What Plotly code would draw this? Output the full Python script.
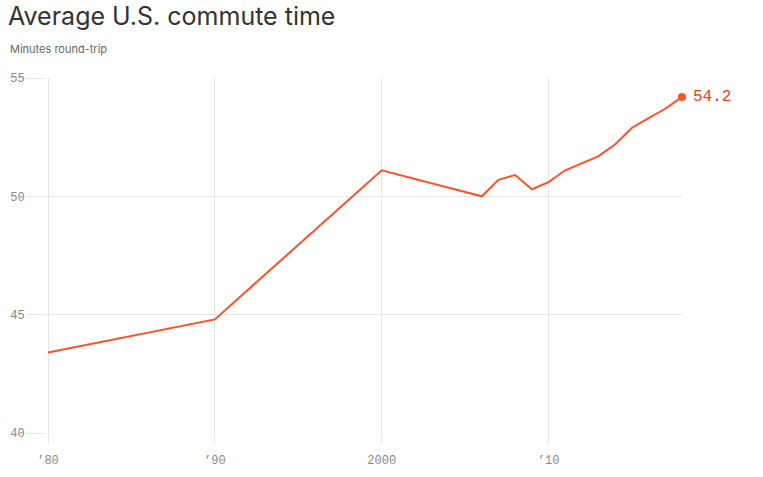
import plotly.graph_objects as go

years = [1980, 1990, 2000, 2006, 2007, 2008, 2009, 2010, 2011, 2012, 2013, 2014, 2015, 2016, 2017, 2018]
minutes = [43.4, 44.8, 51.1, 50.0, 50.7, 50.9, 50.3, 50.6, 51.1, 51.4, 51.7, 52.2, 52.9, 53.3, 53.7, 54.2]
x_ticks = [1980, 1990, 2000, 2010]
x_tick_labels = ["’80", "’90", "2000", "’10"]
y_ticks = [40, 45, 50, 55]

LINE = "#ff5126"
MONO = "Liberation Mono, DejaVu Sans Mono, monospace"
GRID = "#e6e6e6"

fig = go.Figure()
fig.add_trace(go.Scatter(x=years, y=minutes, mode="lines",
                         line=dict(color=LINE, width=2), hoverinfo="skip"))
fig.add_trace(go.Scatter(x=[years[-1]], y=[minutes[-1]], mode="markers",
                         marker=dict(color=LINE, size=8), cliponaxis=False, hoverinfo="skip"))
fig.add_annotation(x=years[-1], y=minutes[-1], text=f"{minutes[-1]}", showarrow=False,
                   xanchor="left", xshift=9, yshift=0,
                   font=dict(family=MONO, size=16, color="#e8411b"))

fig.update_layout(
    width=763, height=477,
    margin=dict(l=46, r=81, t=78, b=44, autoexpand=False),
    paper_bgcolor="white", plot_bgcolor="white",
    showlegend=False,
    title=dict(text="Average U.S. commute time", x=0.0105, xanchor="left",
               y=1 - 16 / 477, yanchor="middle",
               font=dict(family="Inter, Roboto, sans-serif", size=25, color="#333333")),
    xaxis=dict(range=[1979.88, 2018], tickvals=x_ticks, ticktext=x_tick_labels,
               showgrid=True, gridcolor=GRID, gridwidth=1, zeroline=False,
               ticks="outside", ticklen=10, tickcolor=GRID, showline=False,
               ticklabelstandoff=6, automargin=False,
               tickfont=dict(family=MONO, size=12, color="#888888")),
    yaxis=dict(range=[40, 55], tickvals=y_ticks,
               showgrid=True, gridcolor=GRID, gridwidth=1, zeroline=False,
               ticks="outside", ticklen=18, tickcolor=GRID, showline=False,
               automargin=False,
               tickfont=dict(family=MONO, size=12, color="#888888")),
)
fig.add_annotation(text="Minutes round-trip", xref="paper", yref="paper",
                   x=-38 / 636, y=1 + (78 - 49) / 355, xanchor="left", yanchor="middle",
                   showarrow=False,
                   font=dict(family="Inter, Roboto, sans-serif", size=11, color="#666666"))

fig.write_html("out.html")
